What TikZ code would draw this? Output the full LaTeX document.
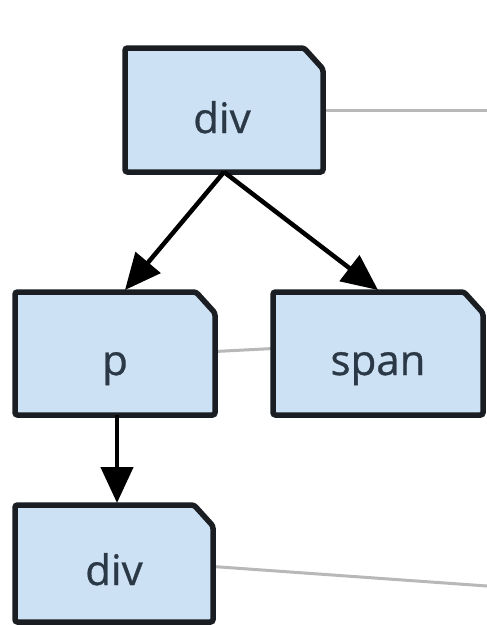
\documentclass[tikz,border=0pt]{standalone}
\usepackage{fontspec}
\setmainfont{Open Sans}
\newfontfamily\lblfont{Open Sans}[FakeBold=0.8]
\usetikzlibrary{arrows.meta}
\definecolor{boxfill}{HTML}{CDE1F4}
\definecolor{boxline}{HTML}{1A1E22}
\definecolor{txt}{HTML}{2B3846}
\definecolor{link}{HTML}{B8B8B8}
\newcommand\chamfbox[1]{%
  \filldraw[boxsty] (#1.south west) -- (#1.north west) -- ([xshift=-19pt]#1.north east)
    -- ([yshift=-21pt]#1.north east) -- (#1.south east) -- cycle;}
\begin{document}
\begin{tikzpicture}[x=1pt,y=-1pt,
  elem/.style={rectangle, inner sep=0pt, outer sep=0pt},
  boxsty/.style={draw=boxline, fill=boxfill, line width=5.5pt, rounded corners=2.5pt},
  lbl/.style={text=txt, font=\lblfont\fontsize{42}{42}\selectfont, anchor=base, inner sep=0pt},
  tree/.style={line width=4.5pt, draw=black, -{Triangle[length=36pt,width=32pt]}},
  sib/.style={line width=3pt, draw=link}]
\useasboundingbox (0,0) rectangle (487,625);
\fill[white] (0,0) rectangle (487,625);
\node[elem, minimum width=198pt, minimum height=124pt] (d1) at (224,110) {};
\node[elem, minimum width=200pt, minimum height=123pt] (p) at (115,353.5) {};
\node[elem, minimum width=210pt, minimum height=123pt] (s) at (378,353.5) {};
\node[elem, minimum width=198pt, minimum height=117pt] (d2) at (114,563.5) {};
\coordinate (e1) at (487,110);
\coordinate (e2) at (487,586);
\draw[sib] (d1.east) -- (e1);
\draw[sib] ([yshift=2pt]p.east) -- ([yshift=5pt]s.west);
\draw[sib] ([yshift=-3pt]d2.east) -- (e2);
\chamfbox{d1}
\chamfbox{p}
\chamfbox{s}
\chamfbox{d2}
\node[lbl] (t1) at (222,133) {div};
\node[lbl] (t2) at (115,375) {p};
\node[lbl] (t3) at (378,375) {span};
\node[lbl] (t4) at (114,585) {div};
\draw[tree] (d1.south) -- ([xshift=10pt,yshift=2pt]p.north);
\draw[tree] (d1.south) -- ([yshift=2pt]s.north);
\draw[tree] ([xshift=2pt]p.south) -- ([xshift=3pt,yshift=2pt]d2.north);
\end{tikzpicture}
\end{document}
